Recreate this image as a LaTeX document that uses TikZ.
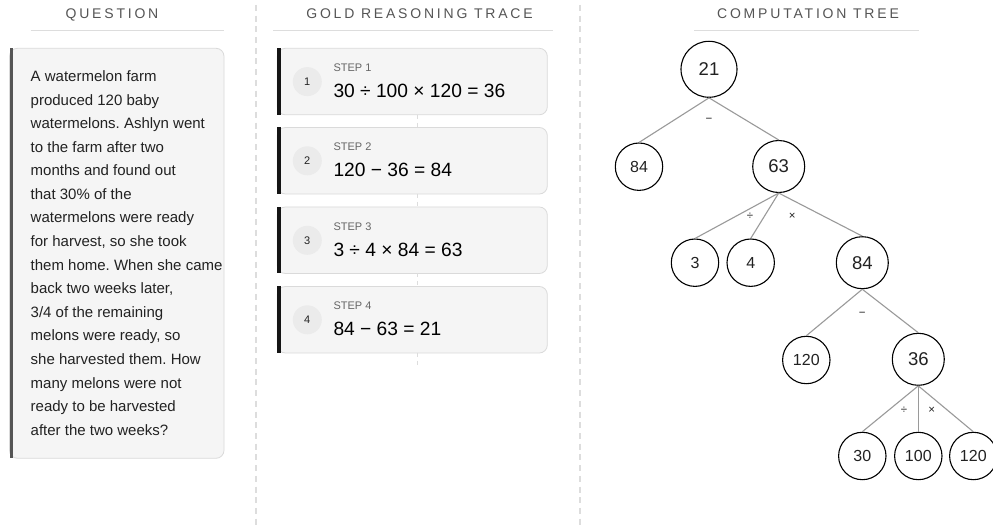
\documentclass[tikz,border=0pt]{standalone}
\usepackage{fontspec}
\setmainfont{Liberation Sans}
\frenchspacing
\definecolor{headgray}{HTML}{555555}
\definecolor{rulegray}{HTML}{DDDDDD}
\definecolor{boxfill}{HTML}{F5F5F5}
\definecolor{boxline}{HTML}{DADADA}
\definecolor{qbar}{HTML}{555555}
\definecolor{sbar}{HTML}{151515}
\definecolor{numfill}{HTML}{EBEBEB}
\definecolor{steplbl}{HTML}{666666}
\definecolor{txt}{HTML}{222222}
\definecolor{edgegray}{HTML}{9A9A9A}
\newcommand{\hsp}{\hspace{6.6pt}}
\tikzset{
  heading/.style={anchor=base, text=headgray, inner sep=0pt,
    font=\fontsize{14}{16}\selectfont\addfontfeature{LetterSpace=20}},
  headrule/.style={draw=rulegray, line width=1pt},
  sep/.style={draw=rulegray, line width=1.4pt, dash pattern=on 6pt off 4.7pt},
  qline/.style={anchor=base west, inner sep=0pt, text=txt, font=\fontsize{15}{18}\selectfont},
  cardbox/.style={draw=boxline, fill=boxfill, line width=0.8pt, rounded corners=8pt},
  numcirc/.style={circle, fill=numfill, minimum size=29pt, inner sep=0pt, text=txt, font=\fontsize{11}{13}\selectfont},
  steplabel/.style={anchor=base west, inner sep=0pt, text=steplbl, font=\fontsize{11}{13}\selectfont},
  eqn/.style={anchor=base west, inner sep=0pt, text=black, font=\fontsize{19.2}{22}\selectfont},
  link/.style={draw=rulegray, line width=1pt, dash pattern=on 4pt off 4pt},
  leaf/.style={circle, draw=black, line width=1.1pt, fill=white, minimum size=47.4pt, inner sep=0pt, text=txt, font=\fontsize{16}{18}\selectfont},
  inner/.style={circle, draw=black, line width=1.1pt, fill=white, minimum size=52pt, inner sep=0pt, text=txt, font=\fontsize{18.5}{22}\selectfont},
  rootn/.style={inner, minimum size=56pt},
  tedge/.style={draw=edgegray, line width=1.1pt},
  oplabel/.style={inner sep=0pt, text=txt, font=\fontsize{11.5}{13}\selectfont},
}
\begin{document}
\begin{tikzpicture}[x=1pt, y=-1pt]
\useasboundingbox (0,0) rectangle (993,526);
\fill[white] (0,0) rectangle (993,526);

% headings
\node[heading] (hq) at (112,18.3) {QUESTION};
\node[heading] (hg) at (419.5,18.3) {GOLD\hsp REASONING\hsp TRACE};
\node[heading] (hc) at (808,18.3) {COMPUTATION\hsp TREE};
\coordinate (uq1) at (30.5,31); \coordinate (uq2) at (224,31);
\coordinate (ug1) at (273,31); \coordinate (ug2) at (553,31);
\coordinate (uc1) at (694,31); \coordinate (uc2) at (919,31);
\draw[headrule] (uq1) -- (uq2);
\draw[headrule] (ug1) -- (ug2);
\draw[headrule] (uc1) -- (uc2);

% separators
\coordinate (s1a) at (256,5); \coordinate (s1b) at (256,526);
\coordinate (s2a) at (580,5); \coordinate (s2b) at (580,526);
\draw[sep] (s1a) -- (s1b);
\draw[sep] (s2a) -- (s2b);

% question box
\draw[cardbox] (9.5,48.3) rectangle (224,458.3);
\fill[qbar] (9.5,48.3) rectangle (13.2,458.3);
\foreach \t [count=\i from 0] in {
  A watermelon farm,
  produced 120 baby,
  watermelons. Ashlyn went,
  to the farm after two,
  months and found out,
  that 30\% of the,
  watermelons were ready,
  {for harvest, so she took},
  them home. When she came,
  {back two weeks later,},
  3/4 of the remaining,
  {melons were ready, so},
  she harvested them. How,
  many melons were not,
  ready to be harvested,
  after the two weeks?}{
  \node[qline] (q\i) at (30.5,81.5+23.58*\i) {\t};
}

% step cards
\foreach \top/\n/\eq in {48.3/1/{30 ÷ 100 × 120 = 36}, 127.5/2/{120 − 36 = 84}, 207/3/{3 ÷ 4 × 84 = 63}, 286.5/4/{84 − 63 = 21}}{
  \draw[cardbox] (277.3,\top) rectangle (547.3,\top+66.5);
  \fill[sbar] (277.3,\top) rectangle (281.3,\top+66.5);
  \node[numcirc] (n\n) at (307.3,\top+33.3) {\n};
  \node[steplabel] (l\n) at (333.3,\top+23.4) {STEP \n};
  \node[eqn] (e\n) at (333.3,\top+49.4) {\eq};
  \coordinate (cb\n) at (417.7,\top+66.5);
  \coordinate (ct\n) at (417.7,\top);
}
\coordinate (cend) at (417.7,366);
\draw[link] (cb1) -- (ct2);
\draw[link] (cb2) -- (ct3);
\draw[link] (cb3) -- (ct4);
\draw[link] (cb4) -- (cend);

% computation tree
\node[rootn] (r21) at (709,69.3) {21};
\node[leaf] (a84) at (639,166.7) {84};
\node[inner] (b63) at (778.7,166.5) {63};
\node[leaf] (c3) at (695,262.7) {3};
\node[leaf] (c4) at (750.7,262.7) {4};
\node[inner] (d84) at (862.3,262.7) {84};
\node[leaf] (e120) at (806.3,360) {120};
\node[inner] (f36) at (918.3,359.3) {36};
\node[leaf] (g30) at (862.3,456) {30};
\node[leaf] (g100) at (918.3,456) {100};
\node[leaf] (g120) at (973.3,456) {120};

\draw[tedge] (r21.south) -- (a84.north);
\draw[tedge] (r21.south) -- (b63.north);
\draw[tedge] (b63.south) -- (c3.north);
\draw[tedge] (b63.south) -- (c4.north);
\draw[tedge] (b63.south) -- (d84.north);
\draw[tedge] (d84.south) -- (e120.north);
\draw[tedge] (d84.south) -- (f36.north);
\draw[tedge] (f36.south) -- (g30.north);
\draw[tedge] (f36.south) -- (g100.north);
\draw[tedge] (f36.south) -- (g120.north);

\node[oplabel] (o1) at (709,120) {−};
\node[oplabel] (o2) at (750,216.7) {÷};
\node[oplabel] (o3) at (792.3,216.7) {×};
\node[oplabel] (o4) at (862.3,314) {−};
\node[oplabel] (o5) at (904,410) {÷};
\node[oplabel] (o6) at (931.7,410) {×};
\end{tikzpicture}
\end{document}
